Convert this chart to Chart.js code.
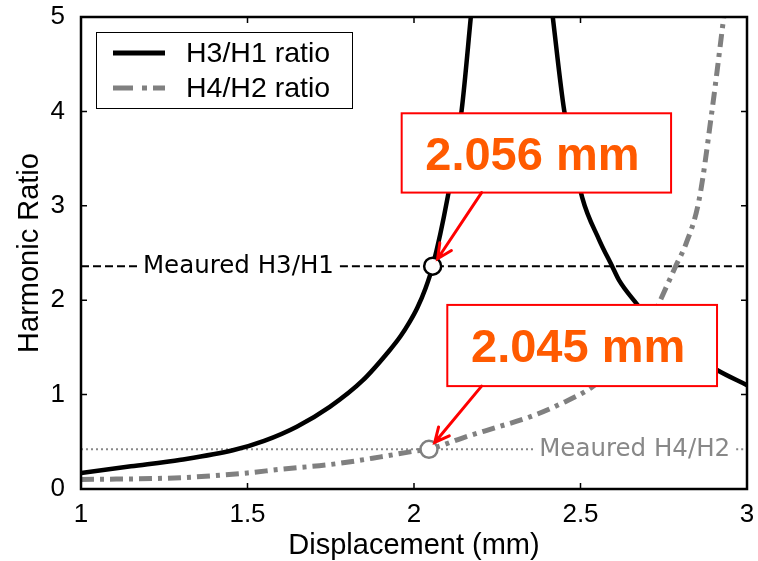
<!DOCTYPE html>
<html>
<head>
<meta charset="utf-8">
<script src="https://cdn.jsdelivr.net/npm/chart.js@4/dist/chart.umd.min.js"></script>
<style>
  html, body { margin: 0; padding: 0; background: #fff; }
  #wrap { width: 758px; height: 561px; }
</style>
</head>
<body>
<div id="wrap"><canvas id="c" width="758" height="561"></canvas></div>
<script>
// H3/H1 ratio (gap at the resonance, null breaks the line)
const h31X = [1.0, 1.15, 1.3, 1.456, 1.55, 1.648, 1.747, 1.846, 1.927, 1.96, 1.987, 2.01, 2.035, 2.056, 2.1, 2.143, 2.172, 2.29,
              2.415, 2.451, 2.505, 2.556, 2.595, 2.616, 2.667, 2.75, 2.85, 2.91, 3.0];
const h31Y = [0.17, 0.24, 0.31, 0.41, 0.51, 0.66, 0.87, 1.15, 1.47, 1.62, 1.77, 1.92, 2.13, 2.36, 3.07, 4.01, 5.05, null,
              5.05, 4.01, 3.09, 2.64, 2.36, 2.21, 1.97, 1.62, 1.40, 1.26, 1.10];

// H4/H2 ratio
const h42X = [1.0, 1.3, 1.5, 1.6, 1.75, 1.9, 2.0, 2.045, 2.145, 2.245, 2.345, 2.445, 2.535, 2.6, 2.65, 2.7, 2.736, 2.787, 2.817, 2.856, 2.895, 2.932];
const h42Y = [0.10, 0.12, 0.17, 0.21, 0.26, 0.34, 0.40, 0.42, 0.54, 0.65, 0.76, 0.91, 1.08, 1.28, 1.47, 1.70, 1.97, 2.37, 2.60, 3.06, 4.01, 5.05];

// measured points
const measuredH31 = 2.36, solvedH31 = 2.056;
const measuredH42 = 0.42, solvedH42 = 2.045;

const xTicks = [1, 1.5, 2, 2.5, 3];
const yTicks = [0, 1, 2, 3, 4, 5];

const seriesNames = ['H3/H1 ratio', 'H4/H2 ratio'];
const refLabels = ['Meaured H3/H1', 'Meaured H4/H2'];
const boxLabels = ['2.056 mm', '2.045 mm'];

const pts = (xs, ys) => xs.map((v, i) => ({ x: v, y: ys[i] }));

const ARIAL = '"Liberation Sans", Arial, sans-serif';
const GREY = '#808080';

function arrow(ctx, x0, y0, x1, y1) {
    const ang = Math.atan2(y1 - y0, x1 - x0);
    ctx.beginPath();
    ctx.moveTo(x0, y0);
    ctx.lineTo(x1, y1);
    ctx.moveTo(x1 - 16 * Math.cos(ang - 0.45), y1 - 16 * Math.sin(ang - 0.45));
    ctx.lineTo(x1, y1);
    ctx.lineTo(x1 - 16 * Math.cos(ang + 0.45), y1 - 16 * Math.sin(ang + 0.45));
    ctx.stroke();
}

const annot = {
    id: 'annot',
    beforeDatasetsDraw(chart) {
        const { ctx, chartArea: a, scales: { x, y } } = chart;
        ctx.save();
        ctx.font = '24.5px "DejaVu Sans", Verdana, sans-serif';
        ctx.textBaseline = 'middle';

        // measured H3/H1 dashed line
        let py = y.getPixelForValue(measuredH31);
        let tx = x.getPixelForValue(1.186);
        let tw = ctx.measureText(refLabels[0]).width;
        ctx.strokeStyle = '#000';
        ctx.lineWidth = 2;
        ctx.setLineDash([8, 4]);
        ctx.beginPath();
        ctx.moveTo(a.left, py); ctx.lineTo(tx - 5, py);
        ctx.moveTo(tx + tw + 6, py); ctx.lineTo(a.right, py);
        ctx.stroke();
        ctx.fillStyle = '#000';
        ctx.fillText(refLabels[0], tx, py);

        // measured H4/H2 dotted line
        py = y.getPixelForValue(measuredH42);
        tx = x.getPixelForValue(2.376);
        tw = ctx.measureText(refLabels[1]).width;
        ctx.strokeStyle = '#888';
        ctx.setLineDash([2, 3]);
        ctx.beginPath();
        ctx.moveTo(a.left, py); ctx.lineTo(tx - 5, py);
        ctx.moveTo(tx + tw + 6, py); ctx.lineTo(a.right, py);
        ctx.stroke();
        ctx.fillStyle = '#888';
        ctx.fillText(refLabels[1], tx, py);
        ctx.restore();
    },
    afterDatasetsDraw(chart) {
        const { ctx, chartArea: a, scales: { x, y } } = chart;
        ctx.save();

        // callout boxes + arrows
        const boxes = [
            { x0: 1.963, x1: 2.772, y0: 3.98, y1: 3.14, ax: 2.203, tx: solvedH31, ty: measuredH31 },
            { x0: 2.10, x1: 2.91, y0: 1.95, y1: 1.09, ax: 2.203, tx: solvedH42, ty: measuredH42 }
        ];
        boxes.forEach((b, i) => {
            const l = x.getPixelForValue(b.x0), r = x.getPixelForValue(b.x1);
            const t = y.getPixelForValue(b.y0), bt = y.getPixelForValue(b.y1);
            ctx.fillStyle = '#fff';
            ctx.fillRect(l, t, r - l, bt - t);
            ctx.strokeStyle = '#ff0000';
            ctx.lineWidth = 2;
            ctx.strokeRect(l, t, r - l, bt - t);
            ctx.fillStyle = '#ff5a00';
            ctx.font = 'bold 47px ' + ARIAL;
            ctx.textAlign = 'center';
            ctx.textBaseline = 'alphabetic';
            ctx.fillText(boxLabels[i], (l + r) / 2 - 4, t + 57);

            const sx = x.getPixelForValue(b.ax), sy = bt;
            const mx = x.getPixelForValue(b.tx), my = y.getPixelForValue(b.ty);
            const d = Math.hypot(mx - sx, my - sy);
            const ex = mx + (sx - mx) / d * 9, ey = my + (sy - my) / d * 9;
            ctx.lineWidth = 3;
            ctx.lineCap = 'round';
            arrow(ctx, sx, sy, ex, ey);
        });

        // legend
        const lx = a.left + 15, ly = a.top + 15;
        ctx.fillStyle = '#fff';
        ctx.fillRect(lx, ly, 256, 76);
        ctx.strokeStyle = '#000';
        ctx.lineWidth = 1;
        ctx.lineCap = 'butt';
        ctx.strokeRect(lx + 0.5, ly + 0.5, 256, 76);
        ctx.lineWidth = 5;
        ctx.beginPath();
        ctx.moveTo(lx + 17, ly + 21); ctx.lineTo(lx + 69, ly + 21);
        ctx.stroke();
        ctx.strokeStyle = GREY;
        ctx.setLineDash([20, 9, 5, 6]);
        ctx.beginPath();
        ctx.moveTo(lx + 17, ly + 56); ctx.lineTo(lx + 69, ly + 56);
        ctx.stroke();
        ctx.setLineDash([]);
        ctx.fillStyle = '#000';
        ctx.font = '28.5px ' + ARIAL;
        ctx.textAlign = 'left';
        ctx.textBaseline = 'middle';
        ctx.fillText(seriesNames[0], lx + 90, ly + 22);
        ctx.fillText(seriesNames[1], lx + 90, ly + 57);

        // frame and inward ticks
        ctx.strokeStyle = '#000';
        ctx.lineWidth = 2.5;
        ctx.strokeRect(a.left, a.top, a.right - a.left, a.bottom - a.top);
        ctx.lineWidth = 1.5;
        ctx.beginPath();
        xTicks.forEach(v => {
            const px = x.getPixelForValue(v);
            ctx.moveTo(px, a.bottom); ctx.lineTo(px, a.bottom - 6);
            ctx.moveTo(px, a.top); ctx.lineTo(px, a.top + 6);
        });
        yTicks.forEach(v => {
            const py = y.getPixelForValue(v);
            ctx.moveTo(a.left, py); ctx.lineTo(a.left + 6, py);
            ctx.moveTo(a.right, py); ctx.lineTo(a.right - 6, py);
        });
        ctx.stroke();
        ctx.restore();
    }
};

new Chart(document.getElementById('c'), {
    type: 'scatter',
    data: {
        datasets: [
            {
                label: 'marker H3/H1',
                data: [{ x: solvedH31, y: measuredH31 }],
                pointRadius: 8.5,
                pointBorderWidth: 2.5,
                pointBorderColor: '#000',
                pointBackgroundColor: '#fff',
                showLine: false
            },
            {
                label: 'marker H4/H2',
                data: [{ x: solvedH42, y: measuredH42 }],
                pointRadius: 8.5,
                pointBorderWidth: 2.5,
                pointBorderColor: GREY,
                pointBackgroundColor: '#fff',
                showLine: false
            },
            {
                label: seriesNames[0],
                data: pts(h31X, h31Y),
                showLine: true,
                spanGaps: false,
                borderColor: '#000',
                borderWidth: 4.5,
                pointRadius: 0,
                cubicInterpolationMode: 'monotone',
                clip: 0
            },
            {
                label: seriesNames[1],
                data: pts(h42X, h42Y),
                showLine: true,
                borderColor: GREY,
                borderWidth: 5,
                borderDash: [13, 6, 4, 6],
                pointRadius: 0,
                cubicInterpolationMode: 'monotone',
                clip: 0
            }
        ]
    },
    options: {
        responsive: false,
        animation: false,
        events: [],
        layout: { padding: { top: 17, right: 10, left: 0, bottom: 0 } },
        plugins: {
            legend: { display: false },
            tooltip: { enabled: false }
        },
        scales: {
            x: {
                type: 'linear',
                min: 1,
                max: 3,
                afterBuildTicks: s => { s.ticks = xTicks.map(v => ({ value: v })); },
                afterFit: s => { s.height = 72; },
                ticks: {
                    color: '#000',
                    font: { family: ARIAL, size: 26 },
                    padding: 2,
                    maxRotation: 0,
                    callback: v => String(v)
                },
                grid: { display: false },
                border: { display: false },
                title: {
                    display: true,
                    text: 'Displacement (mm)',
                    color: '#000',
                    font: { family: ARIAL, size: 29 },
                    padding: { top: 0, bottom: -2 }
                }
            },
            y: {
                min: 0,
                max: 5,
                afterBuildTicks: s => { s.ticks = yTicks.map(v => ({ value: v })); },
                afterFit: s => { s.width = 81; },
                ticks: {
                    color: '#000',
                    font: { family: ARIAL, size: 26, lineHeight: 0.6 },
                    padding: 8,
                    callback: v => String(v)
                },
                grid: { display: false },
                border: { display: false },
                title: {
                    display: true,
                    text: 'Harmonic Ratio',
                    color: '#000',
                    font: { family: ARIAL, size: 29 },
                    padding: { top: 13, bottom: 0 }
                }
            }
        }
    },
    plugins: [annot]
});
</script>
</body>
</html>
